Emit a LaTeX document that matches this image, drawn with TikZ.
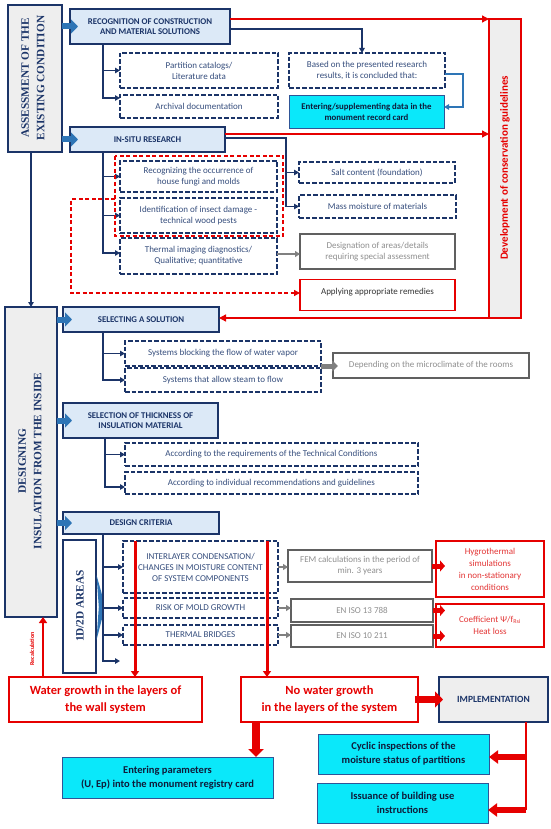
\documentclass[tikz,border=0pt]{standalone}
\usepackage{fontspec}
\setmainfont{Carlito}
\newfontfamily\tnr{Liberation Serif}
\usetikzlibrary{arrows.meta,calc}
\definecolor{navy}{HTML}{1B3468}
\definecolor{navytxt}{HTML}{354D7C}
\definecolor{hdrfill}{HTML}{DCE9F7}
\definecolor{sidefill}{HTML}{EEEEEE}
\definecolor{rd}{HTML}{E60000}
\definecolor{rdtxt}{HTML}{E23434}
\definecolor{gry}{HTML}{606060}
\definecolor{grytxt}{HTML}{8E8E8E}
\definecolor{cyn}{HTML}{0AE8FA}
\definecolor{blu}{HTML}{2E75B6}
\definecolor{cbord}{HTML}{2F5597}
\definecolor{ctxt}{HTML}{0F1B3A}
\begin{document}
\begin{tikzpicture}[x=1pt,y=-1pt,
  every node/.style={inner sep=1pt, outer sep=0pt, align=center},
  hdr/.style={draw=navy, fill=hdrfill, line width=2.2pt, text=navy, font=\fontsize{8.8}{10.5}\selectfont\bfseries},
  side/.style={draw=navy, fill=sidefill, line width=2.4pt},
  sidetext/.style={rotate=90, text=navy, font=\tnr\fontsize{11.3}{15.5}\selectfont\bfseries},
  dbox/.style={draw=navy, line width=2pt, dash pattern=on 4.5pt off 2pt, text=navytxt, font=\fontsize{9}{11}\selectfont},
  gbox/.style={draw=gry, line width=1.3pt, text=grytxt, font=\fontsize{9}{11}\selectfont},
  rbox/.style={draw=rd, line width=1.4pt, text=rdtxt, font=\fontsize{9}{12}\selectfont},
  cbox/.style={draw=cbord, fill=cyn, line width=0.9pt, text=ctxt, font=\fontsize{10.5}{14}\selectfont\bfseries},
  bigred/.style={draw=rd, fill=white, line width=2.2pt, text=rd, font=\fontsize{12.5}{17}\selectfont\bfseries},
  navyarr/.style={draw=navy, line width=1.5pt, -{Triangle[length=5pt,width=5.5pt]}},
  bluethin/.style={draw=blu, line width=1.5pt, -{Triangle[length=5pt,width=5.5pt]}},
  redarr/.style={draw=rd, line width=1.3pt, -{Triangle[length=7pt,width=7pt]}},
  redthick/.style={draw=rd, line width=3pt, -{Triangle[length=6pt,width=8pt]}},
  grayarr/.style={draw=gry!80, line width=1.8pt, -{Triangle[length=5pt,width=6pt]}},
  bluearr/.style={draw=blu, line width=6pt, -{Triangle[length=7pt,width=14pt]}},
  grayblock/.style={draw=gry!80, line width=5pt, -{Triangle[length=6pt,width=11pt]}},
  redblock/.style={draw=rd, line width=5pt, -{Triangle[length=5pt,width=11pt]}},
  redbig/.style={draw=rd, line width=8pt, -{Triangle[length=8pt,width=15pt]}},
  redblockl/.style={draw=rd, line width=6pt, -{Triangle[length=9pt,width=13pt]}},
  reddash/.style={draw=rd, line width=1.3pt, dash pattern=on 4pt off 2.5pt}
]
\useasboundingbox (0,0) rectangle (550,829);

% ---------- section 1 ----------
\node[side, minimum width=54pt, minimum height=147pt] (A1) at (35,78.5) {};
\node[sidetext] (A1t) at (33,78) {ASSESSMENT OF THE\\EXISTING CONDITION};

\node[hdr, minimum width=160pt, minimum height=35pt] (rec) at (150,26.5) {RECOGNITION OF CONSTRUCTION\\AND MATERIAL SOLUTIONS};
\node[dbox, minimum width=158pt, minimum height=35pt] (part) at (199,70.5) {Partition catalogs/\\Literature data};
\node[dbox, minimum width=158pt, minimum height=23pt] (arch) at (199,106.5) {Archival documentation};
\node[dbox, minimum width=156pt, minimum height=35pt] (based) at (367,70.5) {Based on the presented research\\results, it is concluded that:};
\node[cbox, font=\fontsize{8.8}{11}\selectfont\bfseries, minimum width=155pt, minimum height=33pt] (enter1) at (366.5,111.5) {Entering/supplementing data in the\\monument record card};

\node[hdr, minimum width=155pt, minimum height=25pt] (insitu) at (147.5,139.5) {IN-SITU RESEARCH};
\node[dbox, minimum width=157pt, minimum height=31pt] (fungi) at (198.5,176.5) {Recognizing the occurrence of\\house fungi and molds};
\node[dbox, minimum width=157pt, minimum height=35pt] (insect) at (198.5,215.5) {Identification of insect damage -\\technical wood pests};
\node[dbox, minimum width=157pt, minimum height=36pt] (thermal) at (198.5,256) {Thermal imaging diagnostics/\\Qualitative; quantitative};
\node[dbox, minimum width=156pt, minimum height=21pt] (salt) at (377,172.5) {Salt content (foundation)};
\node[dbox, minimum width=157pt, minimum height=23pt] (mass) at (377.5,206.5) {Mass moisture of materials};
\node[gbox, minimum width=155pt, minimum height=35pt] (desig) at (377.5,251.5) {Designation of areas/details\\requiring special assessment};
\node[rbox, text=black!80, minimum width=155pt, minimum height=31pt, text depth=7pt] (apply) at (377.5,295) {Applying appropriate remedies};

\node[draw=rd, fill=sidefill, line width=1.3pt, minimum width=32pt, minimum height=299pt] (devel) at (505,168.5) {};
\node[rotate=90, text=rd, font=\fontsize{11}{13}\selectfont\bfseries] (develt) at (505,168) {Development of conservation guidelines};

% ---------- section 2 ----------
\node[side, minimum width=52pt, minimum height=310pt] (A2) at (31,462) {};
\node[sidetext] (A2t) at (30,461) {DESIGNING\\INSULATION FROM THE INSIDE};

\node[hdr, minimum width=156pt, minimum height=25pt] (select) at (141,319.5) {SELECTING A SOLUTION};
\node[dbox, minimum width=196pt, minimum height=25pt] (block) at (223,353.5) {Systems blocking the flow of water vapor};
\node[dbox, minimum width=196pt, minimum height=24pt] (allow) at (223,380) {Systems that allow steam to flow};
\node[gbox, minimum width=196pt, minimum height=25pt] (depend) at (431,365.5) {Depending on the microclimate of the rooms};

\node[hdr, minimum width=155pt, minimum height=35pt] (thick) at (140.5,420.5) {SELECTION OF THICKNESS OF\\INSULATION MATERIAL};
\node[dbox, minimum width=293pt, minimum height=23pt] (req) at (271.5,454.5) {According to the requirements of the Technical Conditions};
\node[dbox, minimum width=293pt, minimum height=22pt] (indiv) at (271.5,483) {According to individual recommendations and guidelines};

\node[hdr, minimum width=156pt, minimum height=22pt] (crit) at (141,523) {DESIGN CRITERIA};
\node[draw=navy, fill=white, line width=2.2pt, minimum width=33pt, minimum height=133pt] (areas) at (79.5,606.5) {};
\node[sidetext] (areast) at (80,606) {1D/2D AREAS};
\fill[blu] (96.5,575) -- (103.5,600) -- (103.5,613) -- (96.5,640) -- (98.8,607) -- cycle;

\node[dbox, minimum width=155pt, minimum height=52pt] (cond) at (200.5,567) {INTERLAYER CONDENSATION/\\CHANGES IN MOISTURE CONTENT\\OF SYSTEM COMPONENTS};
\node[dbox, minimum width=155pt, minimum height=20pt] (mold) at (200.5,608) {RISK OF MOLD GROWTH};
\node[dbox, minimum width=155pt, minimum height=20pt] (bridges) at (200.5,635) {THERMAL BRIDGES};
\node[gbox, minimum width=144pt, minimum height=32pt] (fem) at (360,566) {FEM calculations in the period of\\min. 3 years};
\node[gbox, minimum width=142pt, minimum height=23pt] (iso1) at (362,610.5) {EN ISO 13 788};
\node[gbox, minimum width=142pt, minimum height=22pt] (iso2) at (362,636) {EN ISO 10 211};
\node[rbox, minimum width=108pt, minimum height=56pt] (hygro) at (490,569) {Hygrothermal\\simulations\\in non-stationary\\conditions};
\node[rbox, minimum width=108pt, minimum height=43pt] (coef) at (490,625.5) {Coefficient Ψ/f\textsubscript{Rsi}\\Heat loss};

% ---------- bottom ----------
\node[bigred, minimum width=193pt, minimum height=45pt] (water) at (105.5,699.5) {Water growth in the layers of\\the wall system};
\node[bigred, minimum width=177pt, minimum height=45pt] (nowater) at (329.5,699.5) {No water growth\\in the layers of the system};
\node[draw=navy, fill=sidefill, line width=2.4pt, text=navy, font=\fontsize{9.5}{11}\selectfont\bfseries, minimum width=109pt, minimum height=45pt] (impl) at (493.5,699.5) {IMPLEMENTATION};
\node[cbox, minimum width=211pt, minimum height=41pt] (param) at (167.5,777.5) {Entering parameters\\(U, Ep) into the monument registry card};
\node[cbox, minimum width=171pt, minimum height=40pt] (cyclic) at (403.5,754) {Cyclic inspections of the\\moisture status of partitions};
\node[cbox, minimum width=171pt, minimum height=40pt] (issue) at (402.5,803) {Issuance of building use\\instructions};

% ---------- connectors ----------
\draw[bluearr, shorten >=-8pt] (A1.east |- rec.west) -- (rec.west);
\draw[bluearr, shorten >=-8pt] (A1.east |- insitu.west) -- (insitu.west);
\draw[bluearr, shorten >=-9pt] (A2.east |- select.west) -- (select.west);
\draw[bluearr, shorten >=-9pt] (A2.east |- thick.west) -- (thick.west);
\draw[bluearr, shorten >=-9pt] (A2.east |- crit.west) -- (crit.west);

\coordinate (rb) at ($(rec.south west)+(33,0)$);
\coordinate (archin) at ($(arch.north west)+(0,3)$);
\draw[navyarr] (rb) |- (part.west);
\draw[navyarr] (rb) |- (archin);

\coordinate (ib) at ($(insitu.south west)+(33,0)$);
\coordinate (thin) at ($(thermal.west)+(0,-3)$);
\draw[navyarr] (ib) |- (fungi.west);
\draw[navyarr] (ib) |- (insect.west);
\draw[navyarr] (ib) |- (thin);

\coordinate (sb) at ($(select.south west)+(40,0)$);
\draw[navyarr] (sb) |- (block.west);
\draw[navyarr] (sb) |- (allow.west);

\coordinate (tb) at ($(thick.south west)+(42,0)$);
\coordinate (indin) at ($(indiv.west)+(0,4)$);
\draw[navyarr] (tb) |- (req.west);
\draw[navyarr] (tb) |- (indin);

\coordinate (cb) at ($(crit.south west)+(40,0)$);
\coordinate (cfree) at (120,661);
\draw[navyarr] (cb) |- (cond.west);
\draw[navyarr] (cb) |- (mold.west);
\draw[navyarr] (cb) |- (bridges.west);
\draw[navyarr] (cb) |- (cfree);

\coordinate (bn) at ($(based.north)+(-5,0)$);
\coordinate (r0) at ($(rec.east)+(0,2.5)$);
\draw[navyarr] (r0) -| (bn);

\coordinate (r1) at ($(rec.north east)+(0,10)$);
\draw[redarr] (r1) -- (r1 -| devel.west);
\coordinate (r2) at ($(insitu.north east)+(0,7)$);
\draw[redarr] (r2) -- (r2 -| devel.west);

\coordinate (n2) at ($(insitu.north east)+(0,11)$);
\coordinate (n2b) at ($(n2 -| salt.west)+(-13,0)$);
\draw[navyarr] (n2) -- (n2b) |- (mass.west);
\draw[navyarr] (n2b |- salt.west) -- (salt.west);

\coordinate (b1) at ($(based.east)+(0,3.5)$);
\coordinate (b2) at ($(enter1.east)+(0,-4.5)$);
\draw[bluethin] (b1) -- ++(18,0) |- (b2);

\coordinate (t1) at ($(thermal.east)+(0,-2)$);
\draw[grayarr] (t1) -- (t1 -| desig.west);

\draw[reddash] (115,156) rectangle (283,236);
\coordinate (rdl) at (115,199);
\coordinate (apin) at ($(apply.west)+(0,-2)$);
\draw[reddash, -{Triangle[length=6pt,width=6pt]}] (rdl) -- (71,199) |- (apin);

\draw[redarr] (devel.south west) -- (devel.south west -| select.east);

\draw[navyarr] (A2.north |- A1.south) -- (A2.north);

\coordinate (g1) at (block.south east);
\draw[grayblock, shorten >=-5pt] (g1) -- (g1 -| depend.west);

\draw[grayarr] (cond.east) -- (cond.east -| fem.west);
\draw[grayarr] (mold.east) -- (mold.east -| iso1.west);
\draw[grayarr] (bridges.east) -- (bridges.east -| iso2.west);

\draw[redblock, shorten >=-9pt] (fem.east) -- (fem.east -| hygro.west);
\draw[redblock, shorten >=-9pt] (iso1.east) -- (iso1.east -| coef.west);
\draw[redblock, shorten >=-9pt] (iso2.east) -- (iso2.east -| coef.west);

\coordinate (v1) at ($(cond.north west)+(12,0)$);
\coordinate (v2) at ($(cond.north east)+(-11,0)$);
\draw[redthick] (v1) -- (v1 |- water.north);
\draw[redthick] (v2) -- (v2 |- nowater.north);

\coordinate (w1) at ($(water.north west)+(34,0)$);
\draw[redthick, line width=2.2pt] (w1) -- (w1 |- A2.south);
\node[rotate=90, text=rd, font=\fontsize{6}{7}\selectfont\bfseries] (recal) at (32,649) {Recalculation};

\coordinate (d1) at ($(nowater.south west)+(15,0)$);
\draw[redbig] (d1) -- (d1 |- param.north);
\draw[redbig, line width=7pt, -{Triangle[length=8pt,width=16pt]}, shorten <=-3pt, shorten >=-4pt] (nowater.east) -- (impl.west);

\coordinate (i1) at ($(impl.south east)+(-22,0)$);
\coordinate (i2) at ($(issue.east)+(0,7)$);
\coordinate (i3) at ($(cyclic.east)+(0,3)$);
\draw[rd, line width=1.5pt] (i1) -- (i1 |- i2);
\draw[redblockl] (i1 |- i3) -- (i3);
\draw[redblockl] (i1 |- i2) -- (i2);
\end{tikzpicture}
\end{document}
